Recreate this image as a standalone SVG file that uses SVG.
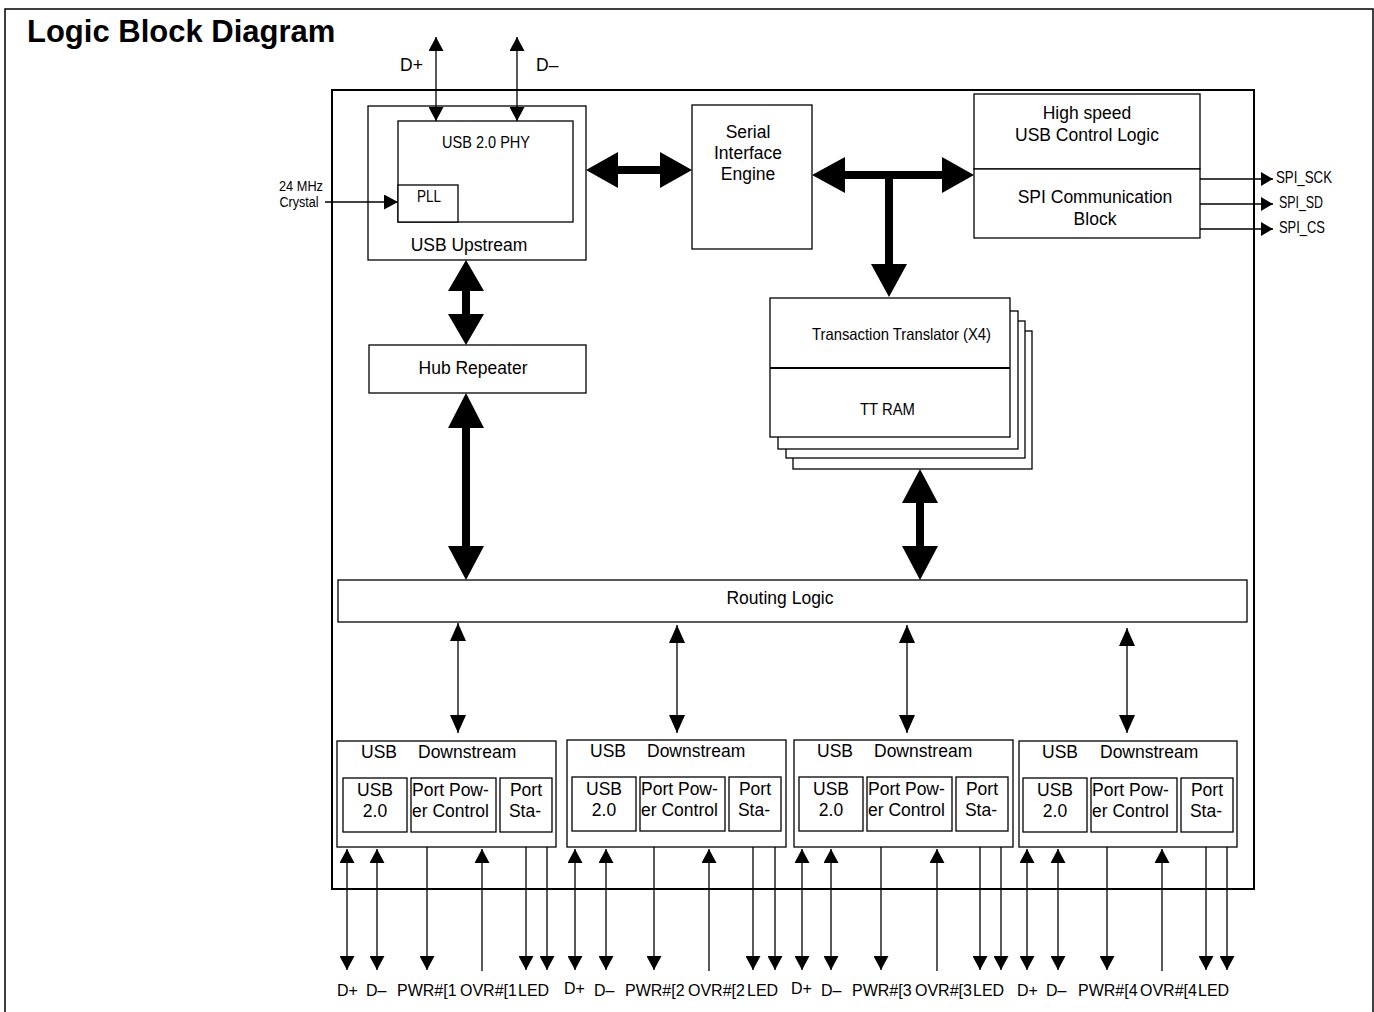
<svg xmlns="http://www.w3.org/2000/svg" width="1374" height="1012" viewBox="0 0 1374 1012">
<style>
text{font-family:"Liberation Sans",Arial,sans-serif;fill:#000}
.b{fill:#fff;stroke:#000;stroke-width:1.3}
.t{font-size:17.5px}
.m{text-anchor:middle}
.s{font-size:16.5px}
.c{font-size:14px}
.p{font-size:16px}
.ln{stroke:#000;stroke-width:1.3;fill:none}
.thick{fill:#000}
</style>
<defs>
<marker id="ah" viewBox="0 0 14 15" refX="14" refY="7.5" markerWidth="14" markerHeight="15" markerUnits="userSpaceOnUse" orient="auto-start-reverse"><path d="M0,0 L14,7.5 L0,15 z" fill="#000"/></marker>
<marker id="ahs" viewBox="0 0 12 14" refX="12" refY="7" markerWidth="12" markerHeight="14" markerUnits="userSpaceOnUse" orient="auto"><path d="M0,0 L12,7 L0,14 z" fill="#000"/></marker>
<marker id="ahm" viewBox="0 0 18 16" refX="18" refY="8" markerWidth="18" markerHeight="16" markerUnits="userSpaceOnUse" orient="auto-start-reverse"><path d="M0,0 L18,8 L0,16 z" fill="#000"/></marker>
</defs>

<path d="M5,1012 V9 H1373 V1012" fill="none" stroke="#000" stroke-width="1.5"/>
<text x="27" y="42" font-size="31" font-weight="bold">Logic Block Diagram</text>

<g id="chip"><rect x="332" y="90" width="922" height="799" fill="none" stroke="#000" stroke-width="2"/></g>

<g id="usb-upstream">
<rect class="b" x="368" y="106" width="218" height="154"/>
<rect class="b" x="398" y="121" width="175" height="101"/>
<text class="s m" x="486" y="148" textLength="88" lengthAdjust="spacingAndGlyphs">USB 2.0 PHY</text>
<text class="t m" x="469" y="251">USB Upstream</text>
</g>
<g id="pll">
<rect class="b" x="398" y="185" width="60" height="37"/>
<text class="s" x="417" y="202" textLength="24" lengthAdjust="spacingAndGlyphs">PLL</text>
</g>
<g id="sie">
<rect class="b" x="692" y="105" width="120" height="144"/>
<text class="t m" x="748" y="138">Serial</text>
<text class="t m" x="748" y="159">Interface</text>
<text class="t m" x="748" y="180">Engine</text>
</g>
<g id="hs-control">
<rect class="b" x="974" y="94" width="226" height="75"/>
<text class="t m" x="1087" y="119">High speed</text>
<text class="t m" x="1087" y="141">USB Control Logic</text>
</g>
<g id="spi-block">
<rect class="b" x="974" y="169" width="226" height="69"/>
<text class="t m" x="1095" y="203">SPI Communication</text>
<text class="t m" x="1095" y="225">Block</text>
</g>
<g id="tt">
<rect class="b" x="793" y="331" width="239" height="138"/>
<rect class="b" x="786" y="321" width="239" height="137"/>
<rect class="b" x="778" y="311" width="240" height="138"/>
<rect class="b" x="770" y="298" width="240" height="139"/>
<line x1="770" y1="368" x2="1010" y2="368" stroke="#000" stroke-width="2"/>
<text class="s" x="812" y="340" textLength="179" lengthAdjust="spacingAndGlyphs">Transaction Translator (X4)</text>
<text class="s" x="860" y="415" textLength="55" lengthAdjust="spacingAndGlyphs">TT RAM</text>
</g>
<g id="hub-repeater">
<rect class="b" x="369" y="345" width="217" height="48"/>
<text class="t m" x="473" y="374">Hub Repeater</text>
</g>
<g id="routing-logic">
<rect class="b" x="338" y="580" width="909" height="42"/>
<text class="t m" x="780" y="604">Routing Logic</text>
</g>

<g id="downstream-1">
<rect class="b" x="337" y="741" width="219" height="106"/>
<text class="t" x="361" y="758">USB</text><text class="t" x="418" y="758">Downstream</text>
<rect class="b" x="343" y="778" width="64" height="54"/>
<rect class="b" x="411" y="778" width="85" height="54"/>
<rect class="b" x="500" y="778" width="52" height="54"/>
<text class="t m" x="375" y="796">USB</text><text class="t m" x="375" y="817">2.0</text>
<text class="t" x="412" y="796">Port Pow-</text><text class="t" x="412" y="817">er Control</text>
<text class="t m" x="526" y="796">Port</text><text class="t m" x="525" y="817">Sta-</text>
</g>
<g id="downstream-2">
<rect class="b" x="567" y="740" width="219" height="107"/>
<text class="t" x="590" y="757">USB</text><text class="t" x="647" y="757">Downstream</text>
<rect class="b" x="572" y="777" width="64" height="54"/>
<rect class="b" x="640" y="777" width="85" height="54"/>
<rect class="b" x="729" y="777" width="52" height="54"/>
<text class="t m" x="604" y="795">USB</text><text class="t m" x="604" y="816">2.0</text>
<text class="t" x="641" y="795">Port Pow-</text><text class="t" x="641" y="816">er Control</text>
<text class="t m" x="755" y="795">Port</text><text class="t m" x="754" y="816">Sta-</text>
</g>
<g id="downstream-3">
<rect class="b" x="794" y="740" width="219" height="107"/>
<text class="t" x="817" y="757">USB</text><text class="t" x="874" y="757">Downstream</text>
<rect class="b" x="799" y="777" width="64" height="54"/>
<rect class="b" x="867" y="777" width="85" height="54"/>
<rect class="b" x="956" y="777" width="52" height="54"/>
<text class="t m" x="831" y="795">USB</text><text class="t m" x="831" y="816">2.0</text>
<text class="t" x="868" y="795">Port Pow-</text><text class="t" x="868" y="816">er Control</text>
<text class="t m" x="982" y="795">Port</text><text class="t m" x="981" y="816">Sta-</text>
</g>
<g id="downstream-4">
<rect class="b" x="1019" y="741" width="218" height="106"/>
<text class="t" x="1042" y="758">USB</text><text class="t" x="1100" y="758">Downstream</text>
<rect class="b" x="1023" y="778" width="64" height="54"/>
<rect class="b" x="1091" y="778" width="86" height="54"/>
<rect class="b" x="1181" y="778" width="52" height="54"/>
<text class="t m" x="1055" y="796">USB</text><text class="t m" x="1055" y="817">2.0</text>
<text class="t" x="1092" y="796">Port Pow-</text><text class="t" x="1092" y="817">er Control</text>
<text class="t m" x="1207" y="796">Port</text><text class="t m" x="1206" y="817">Sta-</text>
</g>

<g id="connectors">
<line class="ln" x1="436" y1="37" x2="436" y2="121" marker-start="url(#ah)" marker-end="url(#ah)"/>
<line class="ln" x1="517" y1="37" x2="517" y2="121" marker-start="url(#ah)" marker-end="url(#ah)"/>
<line class="ln" x1="325" y1="202" x2="398" y2="202" marker-end="url(#ah)"/>
<line class="ln" x1="1200" y1="179" x2="1273" y2="179" marker-end="url(#ahs)"/>
<line class="ln" x1="1200" y1="204" x2="1273" y2="204" marker-end="url(#ahs)"/>
<line class="ln" x1="1200" y1="229" x2="1273" y2="229" marker-end="url(#ahs)"/>
<polygon class="thick" points="586,170 618,152 618,166 660,166 660,152 692,170 660,188 660,174 618,174 618,188"/>
<polygon class="thick" points="812,175 845,157 845,171 942,171 942,157 974,175 942,193 942,179 893,179 893,264 907,264 889,297 871,264 885,264 885,179 845,179 845,193"/>
<polygon class="thick" points="466,260 484,291 470,291 470,314 484,314 466,345 448,314 462,314 462,291 448,291"/>
<polygon class="thick" points="466,393 484,428 470,428 470,546 484,546 466,580 448,546 462,546 462,428 448,428"/>
<polygon class="thick" points="920,469 938,503 924,503 924,546 938,546 920,580 902,546 916,546 916,503 902,503"/>
<line class="ln" x1="458" y1="623" x2="458" y2="733" marker-start="url(#ahm)" marker-end="url(#ahm)"/>
<line class="ln" x1="677" y1="625" x2="677" y2="733" marker-start="url(#ahm)" marker-end="url(#ahm)"/>
<line class="ln" x1="907" y1="625" x2="907" y2="733" marker-start="url(#ahm)" marker-end="url(#ahm)"/>
<line class="ln" x1="1127" y1="628" x2="1127" y2="733" marker-start="url(#ahm)" marker-end="url(#ahm)"/>
<line class="ln" x1="347" y1="849" x2="347" y2="970" marker-start="url(#ah)" marker-end="url(#ah)"/>
<line class="ln" x1="377" y1="849" x2="377" y2="970" marker-start="url(#ah)" marker-end="url(#ah)"/>
<line class="ln" x1="427" y1="847" x2="427" y2="970" marker-end="url(#ah)"/>
<line class="ln" x1="482" y1="971" x2="482" y2="849" marker-end="url(#ah)"/>
<line class="ln" x1="526" y1="847" x2="526" y2="970" marker-end="url(#ah)"/>
<line class="ln" x1="547" y1="847" x2="547" y2="970" marker-end="url(#ah)"/>
<line class="ln" x1="575" y1="849" x2="575" y2="970" marker-start="url(#ah)" marker-end="url(#ah)"/>
<line class="ln" x1="606" y1="849" x2="606" y2="970" marker-start="url(#ah)" marker-end="url(#ah)"/>
<line class="ln" x1="654" y1="847" x2="654" y2="970" marker-end="url(#ah)"/>
<line class="ln" x1="709" y1="971" x2="709" y2="849" marker-end="url(#ah)"/>
<line class="ln" x1="753" y1="847" x2="753" y2="970" marker-end="url(#ah)"/>
<line class="ln" x1="775" y1="847" x2="775" y2="970" marker-end="url(#ah)"/>
<line class="ln" x1="802" y1="849" x2="802" y2="970" marker-start="url(#ah)" marker-end="url(#ah)"/>
<line class="ln" x1="831" y1="849" x2="831" y2="970" marker-start="url(#ah)" marker-end="url(#ah)"/>
<line class="ln" x1="881" y1="847" x2="881" y2="970" marker-end="url(#ah)"/>
<line class="ln" x1="937" y1="971" x2="937" y2="849" marker-end="url(#ah)"/>
<line class="ln" x1="980" y1="847" x2="980" y2="970" marker-end="url(#ah)"/>
<line class="ln" x1="1001" y1="847" x2="1001" y2="970" marker-end="url(#ah)"/>
<line class="ln" x1="1027" y1="849" x2="1027" y2="970" marker-start="url(#ah)" marker-end="url(#ah)"/>
<line class="ln" x1="1058" y1="849" x2="1058" y2="970" marker-start="url(#ah)" marker-end="url(#ah)"/>
<line class="ln" x1="1107" y1="847" x2="1107" y2="970" marker-end="url(#ah)"/>
<line class="ln" x1="1162" y1="971" x2="1162" y2="849" marker-end="url(#ah)"/>
<line class="ln" x1="1206" y1="847" x2="1206" y2="970" marker-end="url(#ah)"/>
<line class="ln" x1="1227" y1="847" x2="1227" y2="970" marker-end="url(#ah)"/>
</g>

<g id="labels">
<text class="t" x="400" y="71">D+</text>
<text class="t" x="536" y="71">D–</text>
<text class="c m" x="301" y="191" textLength="44" lengthAdjust="spacingAndGlyphs">24 MHz</text>
<text class="c m" x="299" y="207" textLength="39" lengthAdjust="spacingAndGlyphs">Crystal</text>
<text class="s" x="1276" y="183" textLength="56" lengthAdjust="spacingAndGlyphs">SPI_SCK</text>
<text class="s" x="1279" y="208" textLength="44" lengthAdjust="spacingAndGlyphs">SPI_SD</text>
<text class="s" x="1279" y="233" textLength="46" lengthAdjust="spacingAndGlyphs">SPI_CS</text>
<text class="p" x="337" y="996">D+</text><text class="p" x="366" y="996">D–</text><text class="p" x="397" y="996">PWR#[1</text><text class="p" x="460" y="996">OVR#[1</text><text class="p" x="518" y="996">LED</text>
<text class="p" x="564" y="994">D+</text><text class="p" x="594" y="996">D–</text><text class="p" x="625" y="996">PWR#[2</text><text class="p" x="688" y="996">OVR#[2</text><text class="p" x="747" y="996">LED</text>
<text class="p" x="791" y="994">D+</text><text class="p" x="821" y="996">D–</text><text class="p" x="852" y="996">PWR#[3</text><text class="p" x="915" y="996">OVR#[3</text><text class="p" x="973" y="996">LED</text>
<text class="p" x="1017" y="996">D+</text><text class="p" x="1046" y="996">D–</text><text class="p" x="1078" y="996">PWR#[4</text><text class="p" x="1140" y="996">OVR#[4</text><text class="p" x="1198" y="996">LED</text>
</g>
</svg>
